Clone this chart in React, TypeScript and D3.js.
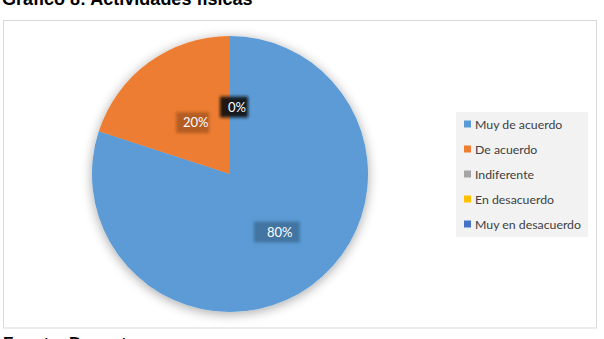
import React from "react";
import * as d3 from "d3";

const categories = ["Muy de acuerdo", "De acuerdo", "Indiferente", "En desacuerdo", "Muy en desacuerdo"];
const values = [80, 20, 0, 0, 0];
const colors = ["#5b9bd5", "#ed7d31", "#a5a5a5", "#ffc000", "#4472c4"];
const labelFills = ["#41719c", "#ae5a21", "#111111", "#111111", "#111111"];
const title = "Gráfico 8: Actividades físicas";
const source = "Fuente: Docentes";

export default function App() {
  const W = 604, H = 339;
  const cx = 230, cy = 174, r = 138;
  const pie = d3.pie<number>().sort(null).value((d) => d);
  const arcs = pie(values);
  const arc = d3.arc<d3.PieArcDatum<number>>().innerRadius(0).outerRadius(r);
  const total = d3.sum(values);

  const labelPos = (i: number, a: d3.PieArcDatum<number>) => {
    if (values[i] === 0) return [cx + 4, cy - 67];
    const mid = (a.startAngle + a.endAngle) / 2 - (i === 0 ? 0.05 : 0);
    const rr = i === 0 ? r * 0.54 : r * 0.46;
    return [cx + rr * Math.sin(mid), cy - rr * Math.cos(mid)];
  };
  const shownLabels = arcs.filter((a, i) => i <= 2);
  const boxW = [46, 33, 28];

  const legendY = d3.scaleLinear().domain([0, 4]).range([124, 224]);

  return (
    <svg width={W} height={H} style={{ position: "absolute", left: 0, top: 0 }} fontFamily="Lato, 'Open Sans', sans-serif">
      <defs>
        <filter id="shadow" x="-20%" y="-20%" width="140%" height="140%">
          <feGaussianBlur in="SourceAlpha" stdDeviation="6" />
          <feOffset dx="0" dy="2" result="b" />
          <feComponentTransfer><feFuncA type="linear" slope="0.35" /></feComponentTransfer>
          <feMerge><feMergeNode /><feMergeNode in="SourceGraphic" /></feMerge>
        </filter>
        <filter id="blurbox" x="-30%" y="-30%" width="160%" height="160%">
          <feGaussianBlur stdDeviation="1.5" />
        </filter>
      </defs>
      <rect x={0} y={0} width={W} height={H} fill="#fff" />
      <text x={2} y={5} fontFamily="'Liberation Sans', Arial, sans-serif" fontWeight="bold" fontSize={18} fill="#000">{title}</text>
      <rect x={3.5} y={20.5} width={593} height={307.5} fill="#fff" stroke="#d9d9d9" strokeWidth={1} />
      <g transform={`translate(${cx},${cy})`} filter="url(#shadow)">
        {arcs.map((a, i) => (
          <path key={i} d={arc(a) || ""} fill={colors[i]} />
        ))}
      </g>
      {shownLabels.map((a) => {
        const i = a.index;
        const [lx, ly] = labelPos(i, a);
        const txt = `${Math.round((values[i] / total) * 100)}%`;
        const bw = boxW[i];
        return (
          <g key={i}>
            <rect x={lx - bw / 2} y={ly - 10.5} width={bw} height={21} fill={labelFills[i]} opacity={0.9} filter="url(#blurbox)" />
            <text x={lx + 3} y={ly + 4.5} textAnchor="middle" fontSize={13} fill="#fff">{txt}</text>
          </g>
        );
      })}
      <rect x={456} y={112} width={132} height={125} fill="#f2f2f2" />
      {categories.map((c, i) => (
        <g key={c}>
          <rect x={464} y={legendY(i) - 3.5} width={7} height={7} fill={colors[i]} />
          <text x={475} y={legendY(i) + 4.5} fontSize={12.3} fill="#404040">{c}</text>
        </g>
      ))}
      <text x={3} y={349} fontFamily="'Liberation Sans', Arial, sans-serif" fontWeight="bold" fontSize={17} fill="#000">{source}</text>
    </svg>
  );
}
